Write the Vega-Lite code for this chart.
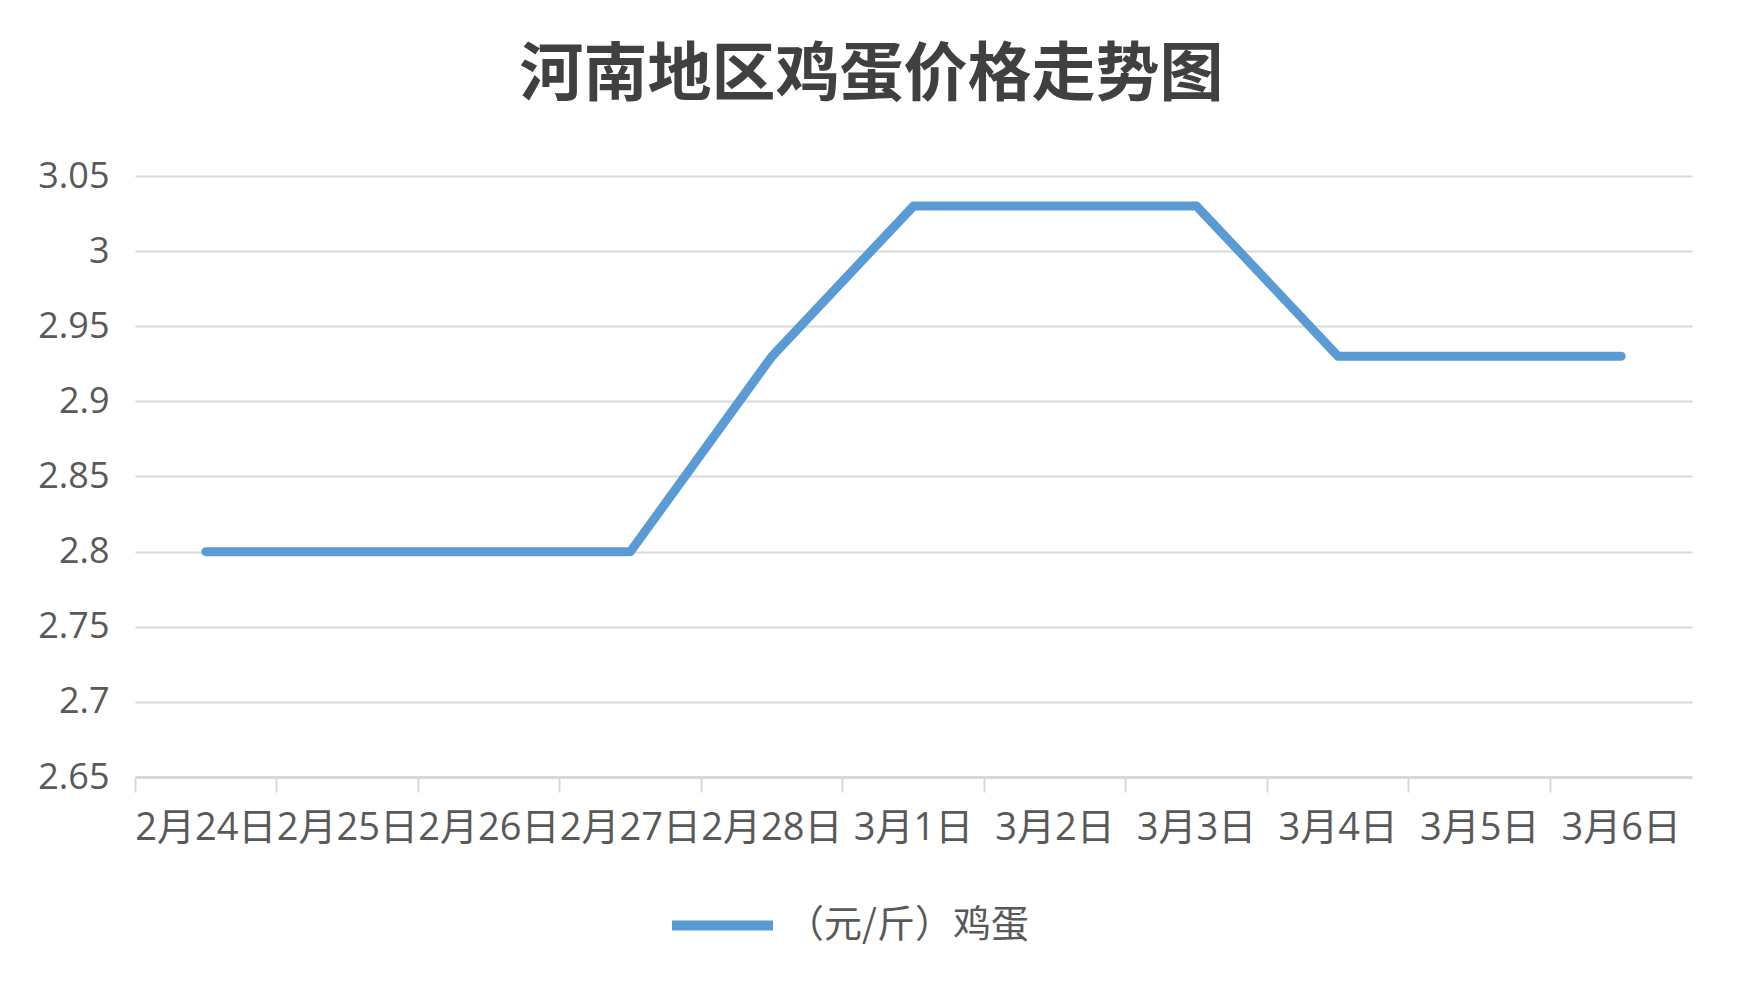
{
  "$schema": "https://vega.github.io/schema/vega-lite/v6.json",
  "width": 1557,
  "height": 601,
  "autosize": "none",
  "padding": {"left": 135, "top": 176, "right": 54, "bottom": 217},
  "background": "white",
  "title": {
    "text": "河南地区鸡蛋价格走势图",
    "font": "Noto Sans CJK SC",
    "fontSize": 64,
    "fontWeight": "bold",
    "color": "#404040",
    "anchor": "middle",
    "dx": -42,
    "offset": 50
  },
  "data": {
    "values": [
      {"date": "2月24日", "price": 2.8, "series": "（元/斤）鸡蛋"},
      {"date": "2月25日", "price": 2.8, "series": "（元/斤）鸡蛋"},
      {"date": "2月26日", "price": 2.8, "series": "（元/斤）鸡蛋"},
      {"date": "2月27日", "price": 2.8, "series": "（元/斤）鸡蛋"},
      {"date": "2月28日", "price": 2.93, "series": "（元/斤）鸡蛋"},
      {"date": "3月1日", "price": 3.03, "series": "（元/斤）鸡蛋"},
      {"date": "3月2日", "price": 3.03, "series": "（元/斤）鸡蛋"},
      {"date": "3月3日", "price": 3.03, "series": "（元/斤）鸡蛋"},
      {"date": "3月4日", "price": 2.93, "series": "（元/斤）鸡蛋"},
      {"date": "3月5日", "price": 2.93, "series": "（元/斤）鸡蛋"},
      {"date": "3月6日", "price": 2.93, "series": "（元/斤）鸡蛋"}
    ]
  },
  "mark": {"type": "line", "strokeWidth": 9, "strokeCap": "round", "strokeJoin": "round"},
  "encoding": {
    "x": {
      "field": "date",
      "type": "ordinal",
      "sort": null,
      "bandPosition": 0.5,
      "scale": {"type": "band", "paddingInner": 0, "paddingOuter": 0},
      "axis": {
        "title": null,
        "labelAngle": 0,
        "bandPosition": 0,
        "grid": false,
        "domainColor": "#D9D9D9",
        "domainWidth": 3,
        "tickColor": "#D9D9D9",
        "tickWidth": 2,
        "tickSize": 15,
        "labelFont": "Open Sans, Noto Sans CJK SC",
        "labelFontSize": 38,
        "labelColor": "#595959",
        "labelPadding": 17,
        "labelAlign": "center",
        "labelLimit": 0
      }
    },
    "y": {
      "field": "price",
      "type": "quantitative",
      "scale": {"domain": [2.65, 3.05], "nice": false, "zero": false},
      "axis": {
        "title": null,
        "values": [2.65, 2.7, 2.75, 2.8, 2.85, 2.9, 2.95, 3, 3.05],
        "format": "~g",
        "domain": false,
        "ticks": false,
        "grid": true,
        "gridColor": "#D9D9D9",
        "gridWidth": 2,
        "labelFont": "Open Sans",
        "labelFontSize": 36,
        "labelColor": "#595959",
        "labelPadding": 26
      }
    },
    "color": {
      "field": "series",
      "type": "nominal",
      "scale": {"range": ["#5B9BD5"]},
      "legend": {
        "title": null,
        "orient": "none",
        "legendX": 532,
        "legendY": 694,
        "symbolType": "stroke",
        "symbolSize": 10201,
        "symbolStrokeWidth": 10,
        "labelFont": "Noto Sans CJK SC",
        "labelFontSize": 38,
        "labelColor": "#595959",
        "labelOffset": 8,
        "labelLimit": 0
      }
    }
  },
  "config": {
    "view": {"stroke": null}
  }
}
